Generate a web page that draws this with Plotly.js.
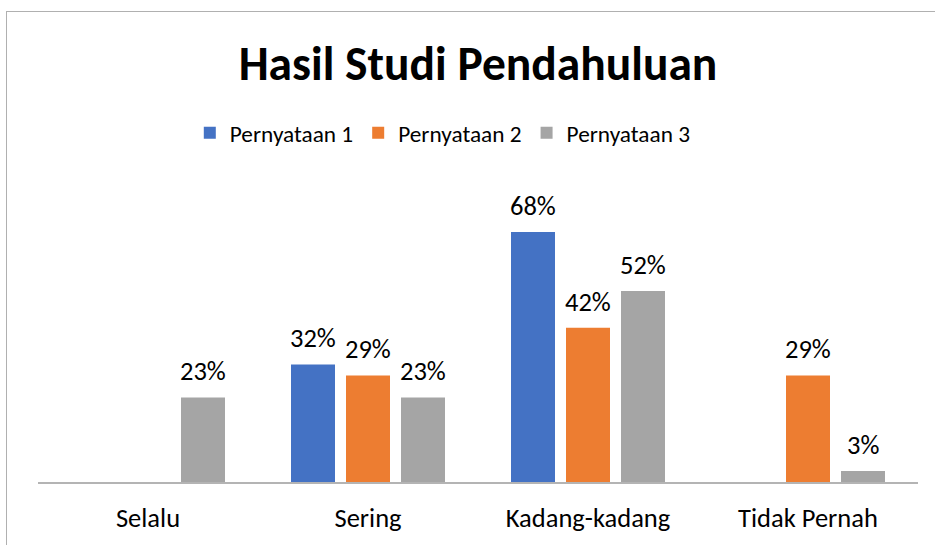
<!DOCTYPE html>
<html>
<head>
<meta charset="utf-8">
<script src="https://cdn.plot.ly/plotly-3.0.1.min.js"></script>
<style>
html,body{margin:0;padding:0;background:#fff;}
#wrap{position:relative;width:935px;height:545px;}
#frame{position:absolute;left:6px;top:11px;width:940px;height:545px;border-top:1px solid #b0b0b0;border-left:1px solid #b0b0b0;pointer-events:none;z-index:5;}
#chart{position:absolute;left:0;top:0;width:935px;height:545px;}
</style>
</head>
<body>
<div id="wrap"><div id="chart"></div><div id="frame"></div></div>
<script>
const categories = ["Selalu", "Sering", "Kadang-kadang", "Tidak Pernah"];
const seriesNames = ["Pernyataan 1", "Pernyataan 2", "Pernyataan 3"];
const pernyataan1 = [null, 32, 68, null];
const pernyataan2 = [null, 29, 42, 29];
const pernyataan3 = [23, 23, 52, 3];
const colors = ["#4472C4", "#ED7D31", "#A5A5A5"];

const FONT = "Carlito, Calibri, Lato, sans-serif";
const bargap = 0.25;
const allSeries = [pernyataan1, pernyataan2, pernyataan3];

const traces = allSeries.map((vals, i) => ({
  type: "bar",
  name: seriesNames[i],
  x: categories,
  y: vals,
  marker: {color: colors[i]},
  hoverinfo: "skip"
}));

const annotations = [];
const slot = (1 - bargap) / allSeries.length;
allSeries.forEach((vals, i) => {
  vals.forEach((v, j) => {
    if (v === null) return;
    annotations.push({
      xref: "x", yref: "y",
      x: j + (i - (allSeries.length - 1) / 2) * slot,
      y: v,
      text: v + "%",
      showarrow: false,
      yanchor: "middle",
      yshift: 26,
      font: {family: FONT, size: 26.5, color: "#000"}
    });
  });
});

const layout = {
  width: 935, height: 545,
  margin: {l: 38, r: 17, t: 188, b: 63},
  paper_bgcolor: "#fff", plot_bgcolor: "#fff",
  font: {family: FONT, color: "#000"},
  title: {
    text: "<b>Hasil Studi Pendahuluan</b>",
    font: {family: FONT, size: 47.5, color: "#000"},
    x: 0.5, xref: "paper", xanchor: "center",
    yref: "container", y: 1 - 63/545, yanchor: "middle"
  },
  barmode: "group",
  bargap: bargap,
  bargroupgap: 0.2,
  showlegend: true,
  legend: {
    orientation: "h",
    x: 0.46, xanchor: "center",
    y: 1.187, yanchor: "middle",
    font: {family: FONT, size: 23.3, color: "#000"},
    itemwidth: 30,
    traceorder: "normal"
  },
  xaxis: {
    type: "category",
    showline: true, linecolor: "#B4B4B4", linewidth: 1.5,
    showgrid: false, zeroline: false,
    ticks: "", ticklabelstandoff: 12,
    tickfont: {family: FONT, size: 26.5, color: "#000"}
  },
  yaxis: {
    range: [0, 80],
    visible: false,
    showgrid: false, zeroline: false
  },
  annotations: annotations
};

Plotly.newPlot("chart", traces, layout, {staticPlot: true});
</script>
</body>
</html>
